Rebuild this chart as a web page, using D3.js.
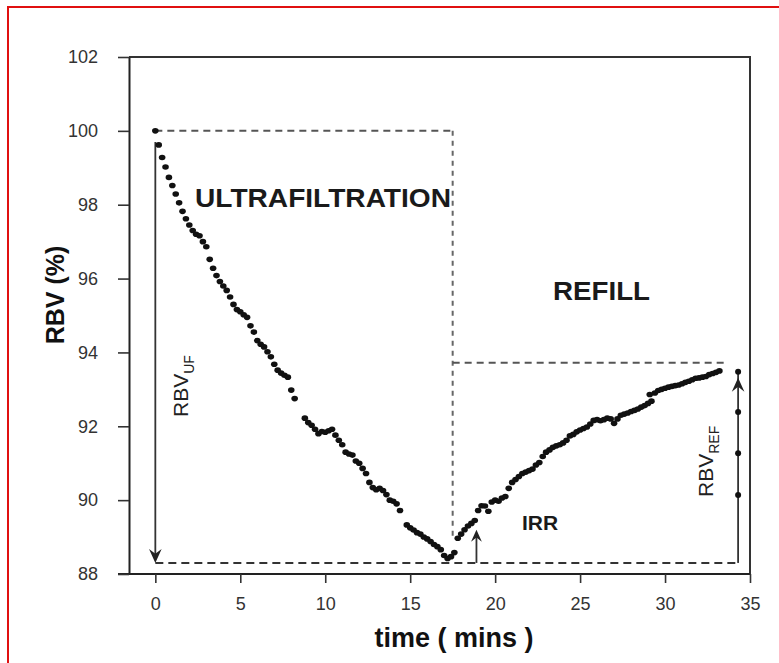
<!DOCTYPE html>
<html>
<head>
<meta charset="utf-8">
<script src="https://cdn.jsdelivr.net/npm/d3@7"></script>
<style>
  body { margin: 0; background: #fff; }
  svg { display: block; font-family: "Liberation Sans", Arial, sans-serif; }
</style>
</head>
<body>
<div id="chart"></div>
<script>
// ultrafiltration phase (time in mins, RBV in %)
const ufTime = [0, 0.2, 0.4, 0.6, 0.8, 1, 1.2, 1.4, 1.6, 1.8, 2, 2.2, 2.4, 2.6, 2.8, 3, 3.2, 3.4, 3.6, 3.8,
  4, 4.2, 4.4, 4.6, 4.8, 5, 5.2, 5.4, 5.6, 5.8, 6, 6.2, 6.4, 6.6, 6.8, 7, 7.2, 7.4, 7.6, 7.8, 8, 8.2,
  8.8, 9, 9.2, 9.4, 9.6, 9.8, 10, 10.2, 10.4, 10.6, 10.8, 11, 11.2, 11.4, 11.6, 11.8, 12, 12.2, 12.4,
  12.6, 12.8, 13, 13.2, 13.4, 13.6, 13.8, 14, 14.2, 14.4,
  14.8, 15, 15.2, 15.4, 15.6, 15.8, 16, 16.2, 16.4, 16.6, 16.8, 17, 17.2, 17.4, 17.6];
const ufRbv = [100.0, 99.62, 99.28, 99.02, 98.74, 98.52, 98.29, 98.05, 97.82, 97.62, 97.45, 97.3, 97.2, 97.16, 97.0, 96.86, 96.52, 96.28, 96.08, 95.92,
  95.8, 95.68, 95.5, 95.3, 95.16, 95.1, 95.02, 94.95, 94.72, 94.55, 94.32, 94.22, 94.15, 94.02, 93.88, 93.68, 93.52, 93.44, 93.38, 93.33, 92.98, 92.75,
  92.22, 92.1, 92.03, 91.92, 91.8, 91.86, 91.84, 91.88, 91.92, 91.76, 91.62, 91.5, 91.3, 91.25, 91.22, 91.06, 91.0, 90.86, 90.72,
  90.48, 90.34, 90.28, 90.32, 90.26, 90.15, 90.0, 89.97, 89.9, 89.72,
  89.33, 89.25, 89.19, 89.12, 89.08, 89.0, 88.95, 88.88, 88.8, 88.74, 88.66, 88.5, 88.42, 88.47, 88.58];

// refill phase
const refillTime = [17.8, 18, 18.2, 18.4, 18.6, 18.8, 19, 19.2, 19.4, 19.6, 19.8, 20, 20.2, 20.4, 20.6, 20.8,
  21, 21.2, 21.4, 21.6, 21.8, 22, 22.2, 22.4, 22.6, 22.8, 23, 23.2, 23.4, 23.6, 23.8, 24, 24.2, 24.4, 24.6, 24.8,
  25, 25.2, 25.4, 25.6, 25.8, 26, 26.2, 26.4, 26.6, 26.8, 27, 27.2, 27.4, 27.6, 27.8, 28, 28.2, 28.4, 28.6, 28.8,
  29, 29.1, 29.2, 29.4, 29.6, 29.8, 30, 30.2, 30.4, 30.6, 30.8, 31, 31.2, 31.4, 31.6, 31.8, 32, 32.2, 32.4, 32.6,
  32.8, 33, 33.2];
const refillRbv = [88.97, 89.08, 89.2, 89.3, 89.37, 89.45, 89.72, 89.85, 89.84, 89.7, 89.95, 90.0, 89.97, 90.06, 90.1, 90.32,
  90.48, 90.56, 90.64, 90.72, 90.76, 90.8, 90.84, 90.95, 91.02, 91.18, 91.3, 91.36, 91.43, 91.47, 91.5, 91.55, 91.62, 91.74, 91.78, 91.85,
  91.9, 91.94, 91.98, 92.06, 92.16, 92.18, 92.15, 92.18, 92.22, 92.2, 92.08, 92.2, 92.3, 92.33, 92.36, 92.4, 92.43, 92.47, 92.52, 92.56,
  92.62, 92.86, 92.68, 92.9, 92.97, 93.0, 93.03, 93.06, 93.08, 93.1, 93.12, 93.15, 93.19, 93.22, 93.26, 93.3, 93.31, 93.33, 93.35, 93.4,
  93.43, 93.46, 93.5];

const xTicks = [0, 5, 10, 15, 20, 25, 30, 35];
const yTicks = [88, 90, 92, 94, 96, 98, 100, 102];

// annotation values
const ufStartLevel = 100;
const ufEndTime = 17.5;
const ufDashBottom = 88.97;
const refillLevel = 93.72;
const refillEndTime = 33.6;
const baseLevel = 88.3;
const irrTime = 18.9, irrTop = 89.2;
const refArrowTime = 34.3, refArrowTop = 93.48;
const refMarks = [93.48, 92.39, 91.27, 90.14];

const W = 779, H = 663;
const svg = d3.select('#chart').append('svg').attr('width', W).attr('height', H);

// red border (top + left)
svg.append('path')
  .attr('d', `M8,${H} L8,7 L${W},7`)
  .attr('fill', 'none').attr('stroke', '#e01010').attr('stroke-width', 2);

const x = d3.scaleLinear().domain([-1.55, 35]).range([129, 750]);
const y = d3.scaleLinear().domain([88, 102]).range([574, 57]);

// frame top + right
svg.append('path')
  .attr('d', `M${x(-1.55)},${y(102)} L${x(35)},${y(102)} L${x(35)},${y(88)}`)
  .attr('fill', 'none').attr('stroke', '#333').attr('stroke-width', 2);

const xAxis = svg.append('g')
  .attr('transform', `translate(0,${y(88)})`)
  .call(d3.axisBottom(x).tickValues(xTicks).tickSize(9).tickSizeOuter(0).tickPadding(14));
const yAxis = svg.append('g')
  .attr('transform', `translate(${x(-1.55)},0)`)
  .call(d3.axisLeft(y).tickValues(yTicks).tickSize(11).tickSizeOuter(0).tickPadding(20));

[xAxis, yAxis].forEach(a => {
  a.select('.domain').attr('stroke', '#222').attr('stroke-width', 2);
  a.selectAll('.tick line').attr('stroke', '#333').attr('stroke-width', 1.6);
  a.selectAll('.tick text').attr('fill', '#333').attr('font-size', 18)
    .attr('font-family', '"Liberation Sans", Arial, sans-serif');
});
// x-axis line runs out under the y ticks
xAxis.select('.domain').attr('d', `M${x(-1.55) - 11},0H${x(35)}`);

// axis titles
svg.append('text')
  .attr('x', 454).attr('y', 647)
  .attr('text-anchor', 'middle')
  .attr('font-size', 27).attr('font-weight', 'bold').attr('fill', '#111')
  .text('time ( mins )');
svg.append('text')
  .attr('transform', 'translate(64,295) rotate(-90)')
  .attr('text-anchor', 'middle')
  .attr('font-size', 25).attr('font-weight', 'bold').attr('fill', '#111')
  .text('RBV (%)');

// dashed guides
const dashed = (x1, y1, x2, y2, color, dash) => svg.append('line')
  .attr('x1', x1).attr('y1', y1).attr('x2', x2).attr('y2', y2)
  .attr('stroke', color).attr('stroke-width', 2).attr('stroke-dasharray', dash);

dashed(x(0), y(ufStartLevel), x(ufEndTime), y(ufStartLevel), '#555', '7,5');
dashed(x(ufEndTime), y(ufStartLevel), x(ufEndTime), y(ufDashBottom), '#666', '5,5');
dashed(x(ufEndTime), y(refillLevel), x(refillEndTime), y(refillLevel), '#555', '7,5');
dashed(x(0), y(baseLevel), x(refArrowTime), y(baseLevel), '#333', '8,5');

// arrows
const arrowHead = (cx, tipY, dir, size) => svg.append('path')
  .attr('d', `M${cx},${tipY} L${cx - size * 0.45},${tipY - dir * size} L${cx},${tipY - dir * size * 0.65} L${cx + size * 0.45},${tipY - dir * size} Z`)
  .attr('fill', '#222');

const solid = (x1, y1, x2, y2) => svg.append('line')
  .attr('x1', x1).attr('y1', y1).attr('x2', x2).attr('y2', y2)
  .attr('stroke', '#333').attr('stroke-width', 1.8);

// RBV_UF
solid(x(0), y(99.7), x(0), y(baseLevel) - 4);
arrowHead(x(0), y(baseLevel), 1, 14);
// IRR
solid(x(irrTime), y(baseLevel), x(irrTime), y(irrTop) + 4);
arrowHead(x(irrTime), y(irrTop), -1, 12);
// RBV_REF
solid(x(refArrowTime), y(baseLevel), x(refArrowTime), y(refArrowTop));
arrowHead(x(refArrowTime), y(refArrowTop) + 6, -1, 14);
svg.append('g').selectAll('circle').data(refMarks).join('circle')
  .attr('cx', x(refArrowTime)).attr('cy', d => y(d)).attr('r', 3).attr('fill', '#111');

// data points
const pts = ufTime.map((t, i) => ({ t, v: ufRbv[i] }))
  .concat(refillTime.map((t, i) => ({ t, v: refillRbv[i] })));
svg.append('g').selectAll('ellipse').data(pts).join('ellipse')
  .attr('cx', d => x(d.t)).attr('cy', d => y(d.v))
  .attr('rx', 3.3).attr('ry', 2.8).attr('fill', '#111');

// labels
svg.append('text').attr('x', 195).attr('y', 207)
  .attr('font-size', 26).attr('font-weight', 'bold').attr('fill', '#1a1a1a')
  .attr('textLength', 256).attr('lengthAdjust', 'spacingAndGlyphs')
  .text('ULTRAFILTRATION');
svg.append('text').attr('x', 553).attr('y', 300)
  .attr('font-size', 26).attr('font-weight', 'bold').attr('fill', '#1a1a1a')
  .attr('textLength', 97).attr('lengthAdjust', 'spacingAndGlyphs')
  .text('REFILL');
svg.append('text').attr('x', 522).attr('y', 530)
  .attr('font-size', 21).attr('font-weight', 'bold').attr('fill', '#1a1a1a')
  .text('IRR');

const subLabel = (tx, ty, main, sub) => {
  const t = svg.append('text')
    .attr('transform', `translate(${tx},${ty}) rotate(-90)`)
    .attr('font-size', 21).attr('fill', '#222');
  t.append('tspan').text(main);
  t.append('tspan').attr('font-size', 14).attr('dy', 6).text(sub);
};
subLabel(188, 417, 'RBV', 'UF');
subLabel(713, 497, 'RBV', 'REF');
</script>
</body>
</html>
